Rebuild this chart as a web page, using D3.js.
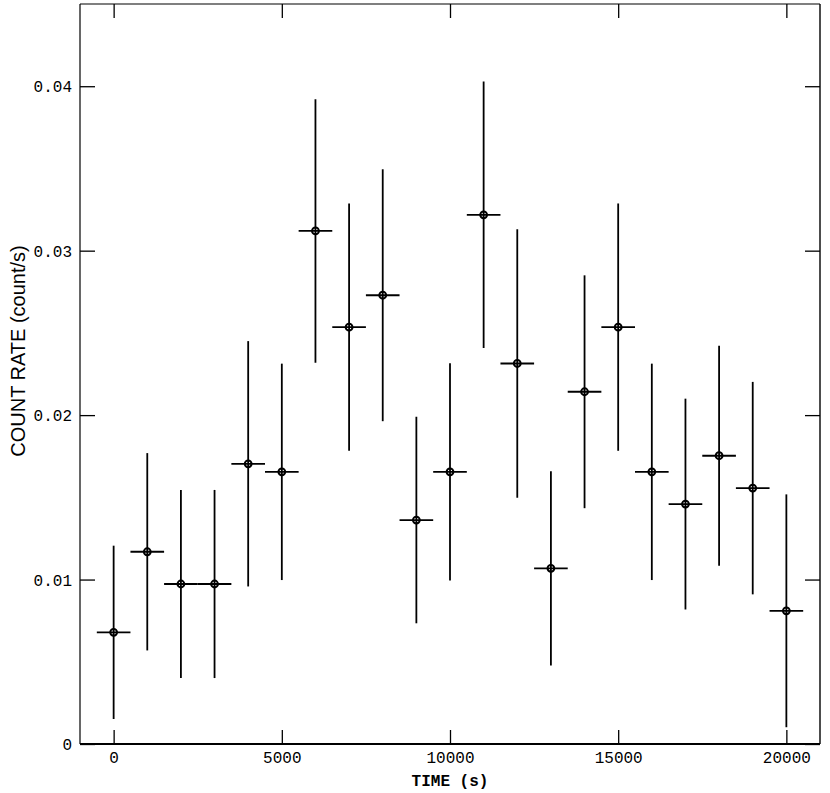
<!DOCTYPE html>
<html>
<head>
<meta charset="utf-8">
<script src="https://cdn.jsdelivr.net/npm/d3@7"></script>
<style>
  html, body { margin: 0; padding: 0; background: #fff; }
  svg { display: block; }
</style>
</head>
<body>
<svg id="chart" width="830" height="793"></svg>
<script>
// ---- data ----
const times = [0,1000,2000,3000,4000,5000,6000,7000,8000,9000,10000,11000,12000,13000,14000,15000,16000,17000,18000,19000,20000];
const rates = [0.00679,0.01169,0.00973,0.00973,0.01704,0.01655,0.03120,0.02535,0.02729,0.01362,0.01655,0.03218,0.02314,0.01068,0.02142,0.02535,0.01655,0.01459,0.01753,0.01556,0.00810];
const rateErrors = [0.00527,0.00600,0.00572,0.00572,0.00746,0.00658,0.00801,0.00752,0.00766,0.00628,0.00660,0.00810,0.00816,0.00590,0.00708,0.00752,0.00658,0.00641,0.00669,0.00646,0.00708];
const timeHalfWidth = 500;
const xTickValues = [0,5000,10000,15000,20000];
const xTickLabels = ["0","5000","10000","15000","20000"];
const yTickValues = [0,0.01,0.02,0.03,0.04];
const yTickLabels = ["0","0.01","0.02","0.03","0.04"];
const xTitle = "TIME (s)";
const yTitle = "COUNT RATE (count/s)";

// ---- layout ----
const L = 80, R = 820, T = 4, B = 744;
const svg = d3.select("#chart");
const x = d3.scaleLinear().domain([-1000, 21000]).range([L, R]);
const y = d3.scaleLinear().domain([0, 0.045]).range([B, T]);

const data = times.map((t, i) => ({t, r: rates[i], e: rateErrors[i]}));

// error bars
const g = svg.append("g").attr("stroke", "#000").attr("fill", "none");
g.selectAll("line.v").data(data).join("line").attr("class", "v")
  .attr("x1", d => x(d.t)).attr("x2", d => x(d.t))
  .attr("y1", d => y(Math.max(0, d.r - d.e))).attr("y2", d => y(d.r + d.e))
  .attr("stroke-width", 1.8);
g.selectAll("line.h").data(data).join("line").attr("class", "h")
  .attr("x1", d => x(d.t - timeHalfWidth)).attr("x2", d => x(d.t + timeHalfWidth))
  .attr("y1", d => y(d.r)).attr("y2", d => y(d.r))
  .attr("stroke-width", 1.8);
g.selectAll("circle").data(data).join("circle")
  .attr("cx", d => x(d.t)).attr("cy", d => y(d.r)).attr("r", 3.4)
  .attr("stroke-width", 2);

// axes
const monoFont = "'Liberation Mono', 'DejaVu Sans Mono', monospace";
function styleAxis(sel) {
  sel.select(".domain").remove();
  sel.selectAll(".tick line").attr("stroke", "#000").attr("stroke-width", 1.3);
}
const xAxisB = svg.append("g").attr("transform", `translate(0,${B})`)
  .call(d3.axisBottom(x).tickValues(xTickValues).tickFormat((d, i) => xTickLabels[i]).tickSize(-14).tickPadding(0));
styleAxis(xAxisB);
xAxisB.selectAll(".tick text").attr("y", 19).attr("dy", 0)
  .attr("font-family", monoFont).attr("font-size", 16).attr("fill", "#000");

const xAxisT = svg.append("g").attr("transform", `translate(0,${T})`)
  .call(d3.axisTop(x).tickValues(xTickValues).tickFormat("").tickSize(-14));
styleAxis(xAxisT);

const yAxisL = svg.append("g").attr("transform", `translate(${L},0)`)
  .call(d3.axisLeft(y).tickValues(yTickValues).tickFormat((d, i) => yTickLabels[i]).tickSize(-15).tickPadding(0));
styleAxis(yAxisL);
yAxisL.selectAll(".tick text").attr("x", -8).attr("dy", "0.35em")
  .attr("font-family", monoFont).attr("font-size", 16).attr("fill", "#000");

const yAxisR = svg.append("g").attr("transform", `translate(${R},0)`)
  .call(d3.axisRight(y).tickValues(yTickValues).tickFormat("").tickSize(-15));
styleAxis(yAxisR);

// frame
svg.append("line").attr("x1", L).attr("x2", L).attr("y1", T).attr("y2", B).attr("stroke", "#000").attr("stroke-width", 1.2);
svg.append("line").attr("x1", R).attr("x2", R).attr("y1", T).attr("y2", B).attr("stroke", "#000").attr("stroke-width", 1.4);
svg.append("line").attr("x1", L).attr("x2", R).attr("y1", T).attr("y2", T).attr("stroke", "#000").attr("stroke-width", 1.2);
svg.append("line").attr("x1", L).attr("x2", R).attr("y1", B).attr("y2", B).attr("stroke", "#000").attr("stroke-width", 2.2);

// titles
svg.append("text").attr("x", (L + R) / 2).attr("y", 786).attr("text-anchor", "middle")
  .attr("font-family", monoFont).attr("font-weight", "bold").attr("font-size", 16).text(xTitle);
svg.append("text").attr("transform", `translate(25,${351}) rotate(-90)`).attr("text-anchor", "middle")
  .attr("font-family", "'Liberation Sans', Arial, sans-serif").attr("font-size", 20).text(yTitle);
</script>
</body>
</html>
